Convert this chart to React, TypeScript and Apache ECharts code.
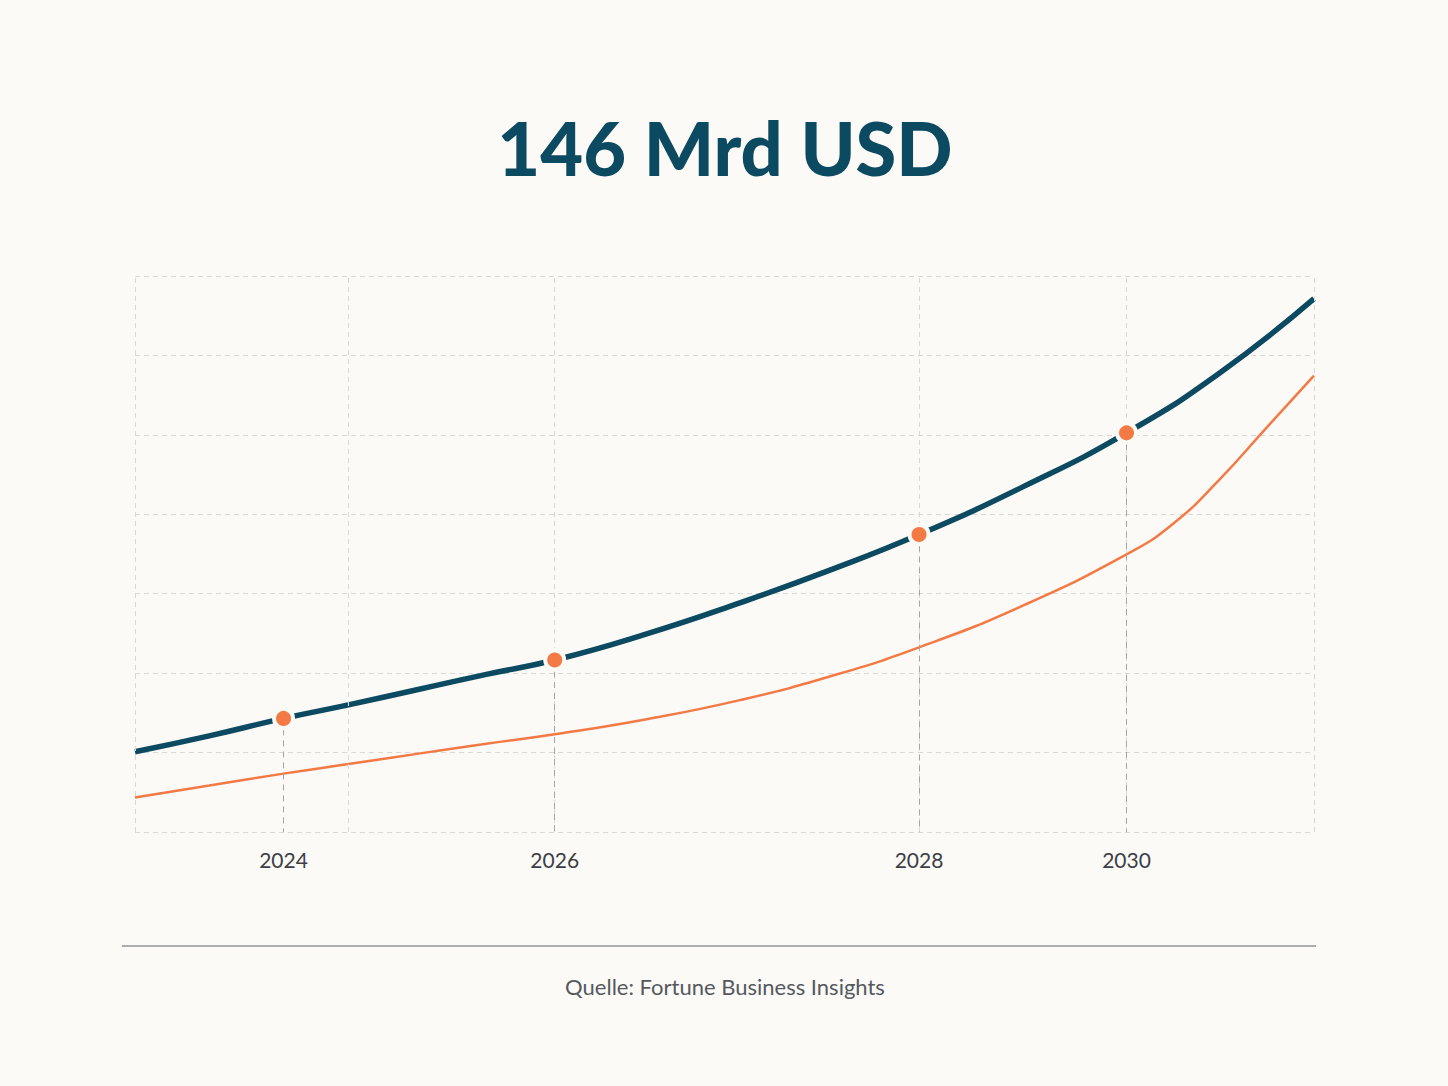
import React, { useEffect, useRef } from "react";
import * as echarts from "echarts";

// Timeline position (0–100 across the plot) and market value, navy forecast curve
const navyPos = [0, 6.3, 12.6, 18.1, 24.2, 29.8, 35.6, 43.4, 51.3, 59.0, 66.5, 75.3, 84.1, 92.0, 100];
const navyValues = [20.2, 24.2, 28.6, 32.0, 36.0, 39.7, 43.3, 49.9, 57.7, 66.0, 74.9, 86.9, 100.5, 115.6, 134.3];

// Orange comparison curve
const orangePos = [0, 6.3, 12.6, 18.1, 24.2, 29.8, 35.6, 43.4, 51.3, 59.0, 66.5, 75.3, 84.1, 88.0, 92.0, 96.0, 100];
const orangeValues = [8.7, 11.7, 14.7, 17.1, 19.8, 22.2, 24.6, 28.4, 33.2, 39.2, 46.5, 57.0, 69.9, 77.5, 88.8, 101.9, 114.9];

// Highlighted years on the navy curve
const yearLabels = ["2024", "2026", "2028", "2030"];
const yearPos = [12.6, 35.6, 66.5, 84.1];
const yearValues = [28.6, 43.3, 74.9, 100.5];

// Vertical grid columns
const gridColumns = [0, 18.1, 35.6, 66.5, 84.1, 100];

const title = "146 Mrd USD";
const source = "Quelle: Fortune Business Insights";

const BG = "#fbfaf7";
const NAVY = "#0b4a60";
const ORANGE = "#f47a45";

export default function App() {
  const ref = useRef<HTMLDivElement>(null);

  useEffect(() => {
    document.body.style.margin = "0";
    document.body.style.background = BG;
    if (!ref.current) return;
    const chart = echarts.init(ref.current, undefined, { renderer: "svg" });

    const zip = (xs: number[], ys: number[]) => xs.map((x, i) => [x, ys[i]]);

    chart.setOption({
      animation: false,
      backgroundColor: BG,
      grid: { left: 135, top: 276, width: 1179, height: 556 },
      xAxis: {
        type: "value",
        min: 0,
        max: 100,
        axisLine: { show: false },
        axisTick: { show: false },
        splitLine: { show: false },
        axisLabel: {
          customValues: yearPos,
          formatter: (v: number) => {
            const i = yearPos.findIndex((p) => Math.abs(p - v) < 1e-6);
            return i >= 0 ? yearLabels[i] : "";
          },
          margin: 17,
          fontFamily: "Lato",
          fontSize: 21,
          color: "#3b4046",
        },
      },
      yAxis: {
        type: "value",
        min: 0,
        max: 140,
        interval: 20,
        axisLine: { show: false },
        axisTick: { show: false },
        axisLabel: { show: false },
        splitLine: { lineStyle: { color: "#d9d9d6", type: [5, 4], width: 1 } },
      },
      graphic: [
        {
          type: "text",
          x: 725,
          y: 147,
          style: {
            text: title,
            fill: NAVY,
            font: "900 74px Lato",
            textAlign: "center",
            textVerticalAlign: "middle",
          },
        },
        {
          type: "line",
          shape: { x1: 122, y1: 946, x2: 1316, y2: 946 },
          style: { stroke: "#8f9294", lineWidth: 1.5 },
        },
        {
          type: "text",
          x: 725,
          y: 986,
          style: {
            text: source,
            fill: "#55595e",
            font: "22px Lato",
            textAlign: "center",
            textVerticalAlign: "middle",
          },
        },
      ],
      series: [
        {
          type: "line",
          data: [],
          silent: true,
          markLine: {
            silent: true,
            symbol: "none",
            label: { show: false },
            lineStyle: { color: "#d9d9d6", type: [5, 4], width: 1 },
            data: gridColumns.map((x) => ({ xAxis: x })),
          },
        },
        {
          type: "line",
          data: [],
          silent: true,
          markLine: {
            silent: true,
            symbol: "none",
            label: { show: false },
            lineStyle: { color: "#a3a5a6", type: [6, 5], width: 1 },
            data: yearPos.map((x, i) => [{ coord: [x, yearValues[i]] }, { coord: [x, 0] }]),
          },
        },
        {
          type: "line",
          data: zip(orangePos, orangeValues),
          smooth: 0.5,
          showSymbol: false,
          lineStyle: { color: ORANGE, width: 2.5 },
          z: 3,
        },
        {
          type: "line",
          data: zip(navyPos, navyValues),
          smooth: 0.5,
          showSymbol: false,
          lineStyle: { color: NAVY, width: 5.5 },
          z: 4,
        },
        {
          type: "scatter",
          data: zip(yearPos, yearValues),
          symbol: "circle",
          symbolSize: 19,
          itemStyle: { color: ORANGE, borderColor: BG, borderWidth: 4, opacity: 1 },
          z: 5,
        },
      ],
    });

    return () => chart.dispose();
  }, []);

  return (
    <div
      ref={ref}
      style={{ position: "absolute", left: 0, top: 0, width: 1448, height: 1086 }}
    />
  );
}
